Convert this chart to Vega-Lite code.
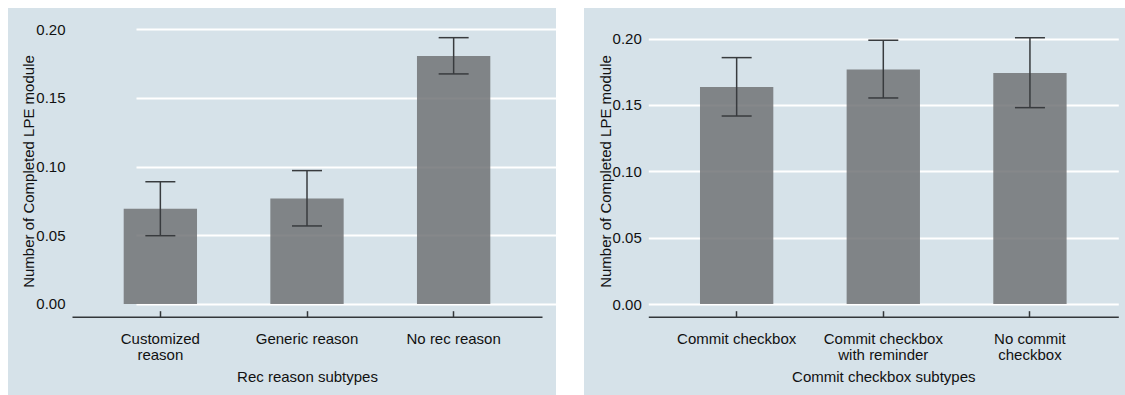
{
  "$schema": "https://vega.github.io/schema/vega-lite/v6.json",
  "background": "white",
  "padding": {"left": 8, "top": 8, "right": 0, "bottom": 0},
  "bounds": "flush",
  "spacing": 28,
  "config": {
    "font": "Liberation Sans",
    "view": {"fill": "#d6e2e9", "stroke": null},
    "axisY": {
      "domain": false,
      "ticks": false,
      "tickSize": 0,
      "grid": true,
      "gridColor": "#ffffff",
      "gridWidth": 2,
      "labelPadding": 7,
      "labelFontSize": 15,
      "labelColor": "#111111",
      "titleFontSize": 15,
      "titleFontWeight": "normal",
      "titleColor": "#111111",
      "titleAngle": -90,
      "titleBaseline": "alphabetic",
      "titleAlign": "center",
      "titleX": -38.5,
      "titleY": 163,
      "offset": -64
    },
    "axisX": {
      "grid": false,
      "domain": true,
      "domainColor": "#33373a",
      "domainWidth": 1.6,
      "ticks": true,
      "tickColor": "#33373a",
      "tickWidth": 1.5,
      "tickSize": -6,
      "labelAngle": 0,
      "labelBaseline": "bottom",
      "labelLineHeight": 16,
      "labelPadding": 36,
      "labelFontSize": 15,
      "labelColor": "#111111",
      "titleFontSize": 15,
      "titleFontWeight": "normal",
      "titleColor": "#111111",
      "titleBaseline": "alphabetic",
      "titleY": 65,
      "offset": -78.3
    }
  },
  "hconcat": [
    {
      "width": 548,
      "height": 387,
      "data": {
        "values": [
          {"subtype": "Customized reason", "mean": 0.0693, "lo": 0.0497, "hi": 0.0890},
          {"subtype": "Generic reason", "mean": 0.0768, "lo": 0.0568, "hi": 0.0971},
          {"subtype": "No rec reason", "mean": 0.1806, "lo": 0.1675, "hi": 0.1939}
        ]
      },
      "encoding": {
        "x": {
          "field": "subtype",
          "type": "nominal",
          "sort": null,
          "scale": {"range": [64, 534], "paddingInner": 0.5, "paddingOuter": 0.3525},
          "axis": {
            "title": "Rec reason subtypes",
            "labelExpr": "datum.value == 'Customized reason' ? ['Customized', 'reason'] : datum.value"
          }
        }
      },
      "layer": [
        {
          "mark": {"type": "bar", "color": "#717375", "opacity": 0.85},
          "encoding": {
            "y": {
              "field": "mean",
              "type": "quantitative",
              "title": "Number of Completed LPE module",
              "scale": {"domain": [-0.0095, 0.2155], "range": [309, 0], "nice": false, "zero": false},
              "axis": {"values": [0, 0.05, 0.1, 0.15, 0.2], "format": ".2f"}
            },
            "y2": {"datum": 0}
          }
        },
        {
          "mark": {"type": "rule", "color": "#383b3e", "strokeWidth": 1.5},
          "encoding": {
            "y": {"field": "lo", "type": "quantitative", "title": "Number of Completed LPE module"},
            "y2": {"field": "hi"}
          }
        },
        {
          "mark": {"type": "tick", "orient": "horizontal", "size": 30, "thickness": 1.5, "color": "#383b3e", "opacity": 1},
          "encoding": {
            "y": {"field": "lo", "type": "quantitative", "title": "Number of Completed LPE module"}
          }
        },
        {
          "mark": {"type": "tick", "orient": "horizontal", "size": 30, "thickness": 1.5, "color": "#383b3e", "opacity": 1},
          "encoding": {
            "y": {"field": "hi", "type": "quantitative", "title": "Number of Completed LPE module"}
          }
        }
      ]
    },
    {
      "width": 541,
      "height": 387,
      "data": {
        "values": [
          {"subtype": "Commit checkbox", "mean": 0.1636, "lo": 0.1417, "hi": 0.1857},
          {"subtype": "Commit checkbox with reminder", "mean": 0.1768, "lo": 0.1553, "hi": 0.1988},
          {"subtype": "No commit checkbox", "mean": 0.1742, "lo": 0.1480, "hi": 0.2007}
        ]
      },
      "encoding": {
        "x": {
          "field": "subtype",
          "type": "nominal",
          "sort": null,
          "scale": {"range": [64.3, 534.3], "paddingInner": 0.5, "paddingOuter": 0.3525},
          "axis": {
            "title": "Commit checkbox subtypes",
            "labelExpr": "datum.value == 'Commit checkbox with reminder' ? ['Commit checkbox', 'with reminder'] : datum.value == 'No commit checkbox' ? ['No commit', 'checkbox'] : datum.value"
          }
        }
      },
      "layer": [
        {
          "mark": {"type": "bar", "color": "#717375", "opacity": 0.85},
          "encoding": {
            "y": {
              "field": "mean",
              "type": "quantitative",
              "title": "Number of Completed LPE module",
              "scale": {"domain": [-0.01, 0.2231], "range": [309.3, 0], "nice": false, "zero": false},
              "axis": {"values": [0, 0.05, 0.1, 0.15, 0.2], "format": ".2f", "offset": -64.3, "titleX": -37.5}
            },
            "y2": {"datum": 0}
          }
        },
        {
          "mark": {"type": "rule", "color": "#383b3e", "strokeWidth": 1.5},
          "encoding": {
            "y": {"field": "lo", "type": "quantitative", "title": "Number of Completed LPE module"},
            "y2": {"field": "hi"}
          }
        },
        {
          "mark": {"type": "tick", "orient": "horizontal", "size": 30, "thickness": 1.5, "color": "#383b3e", "opacity": 1},
          "encoding": {
            "y": {"field": "lo", "type": "quantitative", "title": "Number of Completed LPE module"}
          }
        },
        {
          "mark": {"type": "tick", "orient": "horizontal", "size": 30, "thickness": 1.5, "color": "#383b3e", "opacity": 1},
          "encoding": {
            "y": {"field": "hi", "type": "quantitative", "title": "Number of Completed LPE module"}
          }
        }
      ]
    }
  ]
}
